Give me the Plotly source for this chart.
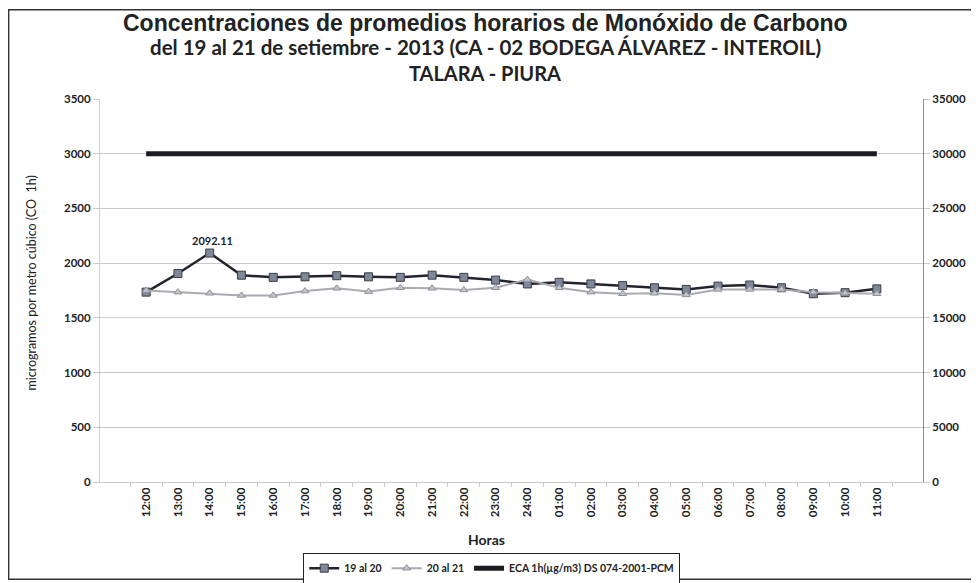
import plotly.graph_objects as go

hours = ["12:00", "13:00", "14:00", "15:00", "16:00", "17:00", "18:00", "19:00",
         "20:00", "21:00", "22:00", "23:00", "24:00", "01:00", "02:00", "03:00",
         "04:00", "05:00", "06:00", "07:00", "08:00", "09:00", "10:00", "11:00"]

s19_20 = [1735, 1905, 2092.11, 1890, 1870, 1875, 1885, 1875, 1870, 1890, 1870, 1845,
          1810, 1825, 1810, 1795, 1775, 1760, 1790, 1800, 1775, 1720, 1730, 1765]

s20_21 = [1750, 1735, 1725, 1705, 1705, 1745, 1770, 1740, 1775, 1770, 1755, 1775,
          1850, 1775, 1735, 1720, 1725, 1710, 1760, 1760, 1760, 1735, 1725, 1720]

eca = [30000] * len(hours)

left_ticks = [0, 500, 1000, 1500, 2000, 2500, 3000, 3500]
right_ticks = [0, 5000, 10000, 15000, 20000, 25000, 30000, 35000]

peak_idx = 2

FONT = "Lato"

fig = go.Figure()

fig.add_trace(go.Scatter(
    x=hours, y=s19_20, name="19 al 20", mode="lines+markers",
    line=dict(color="#23232e", width=2.5),
    marker=dict(symbol="square", size=8, color="#7d8898",
                line=dict(color="#3a3d4a", width=1)),
    yaxis="y",
))
fig.add_trace(go.Scatter(
    x=hours, y=s20_21, name="20 al 21", mode="lines+markers",
    line=dict(color="#a9aab2", width=2),
    marker=dict(symbol="triangle-up", size=7, color="#c3c5cc",
                line=dict(color="#8e9098", width=1)),
    yaxis="y",
))
fig.add_trace(go.Scatter(
    x=hours, y=eca, name="ECA 1h(µg/m3) DS 074-2001-PCM", mode="lines",
    line=dict(color="#1b1b22", width=5),
    yaxis="y2",
))

fig.add_annotation(
    x=hours[peak_idx], y=s19_20[peak_idx], xref="x", yref="y",
    text=f"<b>{s19_20[peak_idx]:.2f}</b>", showarrow=False, yshift=13, xshift=3,
    font=dict(family=FONT, size=11, color="#222"),
)

# Titles
fig.add_annotation(xref="paper", yref="paper", x=0.468, y=1.198, yanchor="middle",
                   showarrow=False,
                   text="<b>Concentraciones de promedios horarios de Monóxido de Carbono</b>",
                   font=dict(family="Liberation Sans", size=23, color="#222"))
fig.add_annotation(xref="paper", yref="paper", x=0.468, y=1.136, yanchor="middle",
                   showarrow=False,
                   text="<b>del 19 al 21 de setiembre - 2013 (CA - 02 BODEGA ÁLVAREZ - INTEROIL)</b>",
                   font=dict(family=FONT, size=20.5, color="#222"))
fig.add_annotation(xref="paper", yref="paper", x=0.468, y=1.068, yanchor="middle",
                   showarrow=False,
                   text="<b>TALARA - PIURA</b>",
                   font=dict(family=FONT, size=20, color="#222"))
fig.add_annotation(xref="paper", yref="paper", x=0.47, y=-0.151, yanchor="middle",
                   showarrow=False,
                   text="<b>Horas</b>",
                   font=dict(family=FONT, size=14, color="#222"))
fig.add_annotation(xref="paper", yref="paper", x=-0.083, y=0.52, xanchor="center",
                   yanchor="middle", showarrow=False, textangle=-90,
                   text="microgramos por metro cúbico (CO  1h)",
                   font=dict(family=FONT, size=12.5, color="#222"))

# Outer frame
fig.add_shape(type="rect", xref="paper", yref="paper",
              x0=-0.111, x1=1.063, y0=-0.254, y1=1.233,
              line=dict(color="#333", width=1.5), layer="below")

fig.update_layout(
    width=971, height=575, autosize=False,
    margin=dict(l=92, r=56, t=91, b=101, autoexpand=False),
    paper_bgcolor="white", plot_bgcolor="white",
    font=dict(family=FONT, color="#222"),
    showlegend=True,
    legend=dict(orientation="h", x=0.476, xanchor="center", y=-0.225, yanchor="middle",
                bordercolor="#222", borderwidth=1, bgcolor="white",
                font=dict(family=FONT, size=10.5, color="#222", weight="bold"),
                itemwidth=30, tracegroupgap=0),
    xaxis=dict(
        type="category", showgrid=False, showline=True, linecolor="#c8c8c8",
        ticks="outside", tickson="boundaries", ticklen=4, tickcolor="#c8c8c8",
        tickangle=-90, automargin=False,
        tickfont=dict(family=FONT, size=11.5, color="#222", weight="bold"),
    ),
    yaxis=dict(
        range=[0, 3500], tickvals=left_ticks, tickformat="d",
        showgrid=True, gridcolor="#c9c9c9", gridwidth=1, automargin=False,
        showline=True, linecolor="#d0d0d0", ticks="outside", ticklen=6, tickcolor="#c8c8c8",
        tickfont=dict(family=FONT, size=11.5, color="#222", weight="bold"), zeroline=False,
    ),
    yaxis2=dict(
        range=[0, 35000], tickvals=right_ticks, tickformat="d", automargin=False,
        overlaying="y", side="right", showgrid=False, zeroline=False,
        showline=True, linecolor="#8a8a8a", ticks="outside", ticklen=6, tickcolor="#c8c8c8",
        tickfont=dict(family=FONT, size=11.5, color="#222", weight="bold"),
    ),
)

fig.write_html("out.html")
